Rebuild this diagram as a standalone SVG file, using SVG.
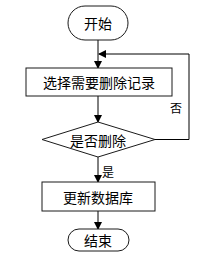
<svg xmlns="http://www.w3.org/2000/svg" width="212" height="269" viewBox="0 0 212 269">
<style>
.s{fill:#fff;stroke:#1a1a1a;stroke-width:1}
.t{font-family:"Noto Sans CJK SC","Noto Sans CJK JP",sans-serif;font-size:14px;fill:#000;text-anchor:middle;dominant-baseline:central}
.c{fill:none;stroke:#000;stroke-width:1}
.l{font-family:"Noto Sans CJK SC",sans-serif;font-size:12px;fill:#000}
</style>
<defs>
<marker id="a" markerWidth="8" markerHeight="8" refX="7" refY="4" orient="auto" markerUnits="userSpaceOnUse">
<path d="M0,0 L8,4 L0,8 Z" fill="#000"/>
</marker>
</defs>
<rect width="212" height="269" fill="#fff"/>
<g id="connectors">
<line class="c" x1="98" y1="40" x2="98" y2="68" marker-end="url(#a)"/>
<line class="c" x1="98" y1="96" x2="98" y2="122" marker-end="url(#a)"/>
<line class="c" x1="98" y1="157" x2="98" y2="182" marker-end="url(#a)"/>
<line class="c" x1="98" y1="211" x2="98" y2="229" marker-end="url(#a)"/>
<polyline class="c" points="155,139.5 189,139.5 189,54 99,54" marker-end="url(#a)"/>
<text class="l" x="170" y="113">否</text>
<text class="l" x="102" y="177">是</text>
</g>
<g id="start">
<rect class="s" x="68" y="6" width="60" height="34" rx="17"/>
<text class="t" x="98" y="23">开始</text>
</g>
<g id="select">
<rect class="s" x="26" y="68" width="146" height="28"/>
<text class="t" x="99" y="82">选择需要删除记录</text>
</g>
<g id="decide">
<polygon class="s" points="98,122 155,139.5 98,157 42,139.5"/>
<text class="t" x="98" y="139.5">是否删除</text>
</g>
<g id="update">
<rect class="s" x="42" y="182" width="113" height="29"/>
<text class="t" x="98" y="196.5">更新数据库</text>
</g>
<g id="end">
<rect class="s" x="68" y="229" width="61" height="22" rx="11"/>
<text class="t" x="98" y="240">结束</text>
</g>
</svg>
